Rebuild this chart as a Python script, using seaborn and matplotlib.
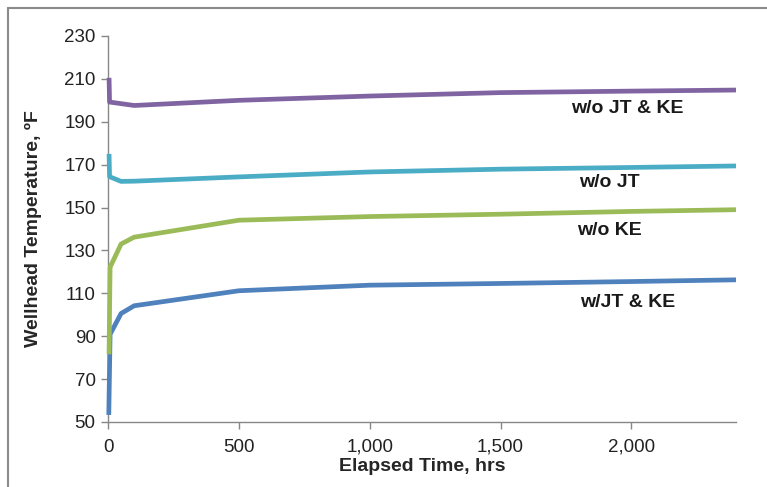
import matplotlib
matplotlib.use("Agg")
import matplotlib.pyplot as plt
import seaborn as sns
import pandas as pd
from matplotlib.lines import Line2D
from matplotlib.ticker import FuncFormatter

# Data
x_nojt_noke = [4, 6, 100, 500, 1000, 1500, 2000, 2400]
y_nojt_noke = [210.5, 199.2, 197.6, 200.0, 202.0, 203.6, 204.3, 204.8]

x_nojt = [4, 6, 50, 100, 500, 1000, 1500, 2000, 2400]
y_nojt = [175.0, 164.4, 162.2, 162.3, 164.3, 166.6, 167.9, 168.7, 169.4]

x_noke = [4, 8, 50, 100, 500, 1000, 1500, 2000, 2400]
y_noke = [81.6, 122.2, 133.0, 136.2, 144.1, 145.8, 146.9, 148.2, 149.0]

x_all = [3, 8, 50, 100, 500, 1000, 1500, 2000, 2400]
y_all = [53.3, 90.9, 100.6, 104.2, 111.2, 113.8, 114.6, 115.5, 116.3]

series_names = ["w/o JT & KE", "w/o JT", "w/o KE", "w/JT & KE"]
series_x = [x_nojt_noke, x_nojt, x_noke, x_all]
series_y = [y_nojt_noke, y_nojt, y_noke, y_all]
colors = ["#8064A2", "#4BACC6", "#9BBB59", "#4F81BD"]

label_x = [1985, 1916, 1916, 1985]
label_y = [196.2, 161.5, 139.4, 105.6]

x_ticks = [0, 500, 1000, 1500, 2000]
y_ticks = [50, 70, 90, 110, 130, 150, 170, 190, 210, 230]

rows = []
for name, xs, ys in zip(series_names, series_x, series_y):
    for xv, yv in zip(xs, ys):
        rows.append({"Elapsed": xv, "Temp": yv, "Case": name})
df = pd.DataFrame(rows)

sns.set_style("white")
plt.rcParams["font.family"] = ["Liberation Sans", "DejaVu Sans"]

fig = plt.figure(figsize=(7.67, 4.87), dpi=100)
ax = fig.add_axes([108 / 767, 1 - 422 / 487, (736 - 108) / 767, (422 - 36) / 487])

sns.lineplot(data=df, x="Elapsed", y="Temp", hue="Case", hue_order=series_names,
             palette=colors, linewidth=3.4, sort=False, estimator=None,
             legend=False, ax=ax)
# Excel draws the last series first: give earlier series higher z-order
for i, ln in enumerate(ax.get_lines()):
    ln.set_clip_on(False)
    ln.set_solid_joinstyle("round")
    ln.set_solid_capstyle("butt")
    ln.set_zorder(3 + (len(series_names) - i) * 0.1)

for name, lx, ly in zip(series_names, label_x, label_y):
    ax.text(lx, ly, name, ha="center", va="center", fontsize=14,
            fontweight="bold", color="#1a1a1a")

ax.set_xlim(0, 2400)
ax.set_ylim(50, 230)
ax.set_xticks(x_ticks)
ax.set_yticks(y_ticks)
ax.xaxis.set_major_formatter(FuncFormatter(lambda v, p: f"{int(v):,}"))

for side in ["top", "right"]:
    ax.spines[side].set_visible(False)
for side in ["left", "bottom"]:
    ax.spines[side].set_color("#878787")
    ax.spines[side].set_linewidth(1.0)
    ax.spines[side].set_zorder(0.5)

ax.tick_params(axis="both", which="major", direction="out", length=5,
               width=1.0, color="#878787", labelsize=13.5, labelcolor="#222222",
               left=True, bottom=True)
ax.tick_params(axis="y", pad=4)
ax.tick_params(axis="x", pad=7)

ax.set_xlabel("Elapsed Time, hrs", fontsize=14, fontweight="bold", labelpad=2)
ax.set_ylabel("Wellhead Temperature, ºF", fontsize=14, fontweight="bold", labelpad=16)

# Chart-area border (left and top visible)
fig.add_artist(Line2D([8 / 767, 8 / 767], [0, 1 - 8 / 487], transform=fig.transFigure,
                      color="#8a8a8a", linewidth=1.5))
fig.add_artist(Line2D([8 / 767, 1], [1 - 8 / 487, 1 - 8 / 487], transform=fig.transFigure,
                      color="#8a8a8a", linewidth=1.5))

fig.savefig("out.png", dpi=100)
